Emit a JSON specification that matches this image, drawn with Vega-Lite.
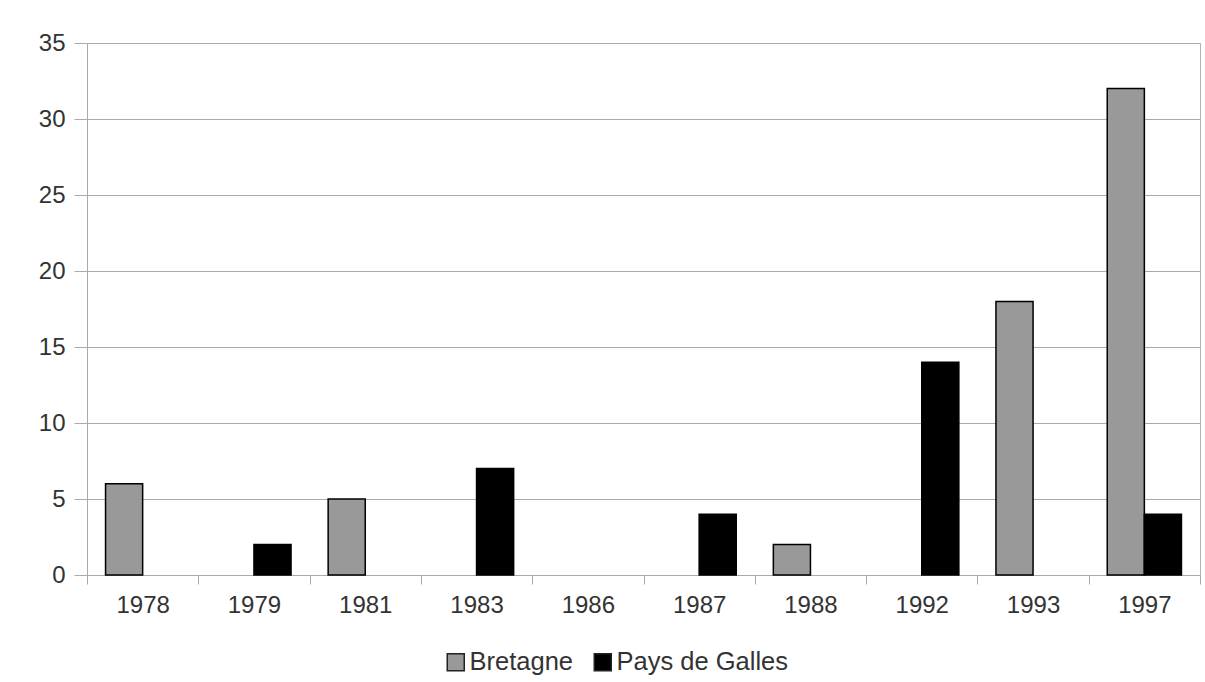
{
  "$schema": "https://vega.github.io/schema/vega-lite/v6.json",
  "width": 1113,
  "height": 532,
  "autosize": {"type": "none"},
  "padding": {"left": 87, "top": 43, "right": 5, "bottom": 107},
  "background": "white",
  "config": {
    "view": {"stroke": "#b3b3b3", "strokeWidth": 1},
    "font": "Liberation Sans"
  },
  "data": {
    "values": [
      {"annee": "1978", "pays": "Bretagne", "valeur": 6},
      {"annee": "1979", "pays": "Pays de Galles", "valeur": 2},
      {"annee": "1981", "pays": "Bretagne", "valeur": 5},
      {"annee": "1983", "pays": "Pays de Galles", "valeur": 7},
      {"annee": "1987", "pays": "Pays de Galles", "valeur": 4},
      {"annee": "1988", "pays": "Bretagne", "valeur": 2},
      {"annee": "1992", "pays": "Pays de Galles", "valeur": 14},
      {"annee": "1993", "pays": "Bretagne", "valeur": 18},
      {"annee": "1997", "pays": "Bretagne", "valeur": 32},
      {"annee": "1997", "pays": "Pays de Galles", "valeur": 4}
    ]
  },
  "mark": {"type": "bar", "stroke": "#000000", "strokeWidth": 1.5},
  "encoding": {
    "x": {
      "field": "annee",
      "type": "nominal",
      "sort": null,
      "scale": {
        "domain": ["1978", "1979", "1981", "1983", "1986", "1987", "1988", "1992", "1993", "1997"],
        "paddingInner": 0,
        "paddingOuter": 0
      },
      "axis": {
        "title": null,
        "labelAngle": 0,
        "tickBand": "extent",
        "domainColor": "#aaaaaa",
        "tickColor": "#aaaaaa",
        "tickSize": 9,
        "labelPadding": 9,
        "labelFontSize": 24,
        "labelColor": "#333333",
        "labelFont": "Liberation Sans",
        "grid": false
      }
    },
    "xOffset": {
      "field": "pays",
      "type": "nominal",
      "scale": {"domain": ["Bretagne", "Pays de Galles"], "paddingInner": 0, "paddingOuter": 0.5}
    },
    "y": {
      "field": "valeur",
      "type": "quantitative",
      "scale": {"domain": [0, 35]},
      "axis": {
        "title": null,
        "values": [0, 5, 10, 15, 20, 25, 30, 35],
        "domainColor": "#aaaaaa",
        "tickColor": "#aaaaaa",
        "gridColor": "#aaaaaa",
        "tickSize": 13,
        "labelPadding": 9,
        "labelFontSize": 24,
        "labelColor": "#333333",
        "labelFont": "Liberation Sans"
      }
    },
    "color": {
      "field": "pays",
      "type": "nominal",
      "scale": {"domain": ["Bretagne", "Pays de Galles"], "range": ["#999999", "#000000"]},
      "legend": {
        "title": null,
        "orient": "none",
        "direction": "horizontal",
        "legendX": 356,
        "legendY": 606,
        "padding": 0,
        "symbolType": "square",
        "symbolSize": 289,
        "symbolStrokeColor": "#222222",
        "symbolStrokeWidth": 1.5,
        "labelFontSize": 25.5,
        "labelLimit": 0,
        "labelColor": "#333333",
        "labelFont": "Liberation Sans",
        "labelOffset": 1,
        "columnPadding": 17
      }
    }
  }
}
